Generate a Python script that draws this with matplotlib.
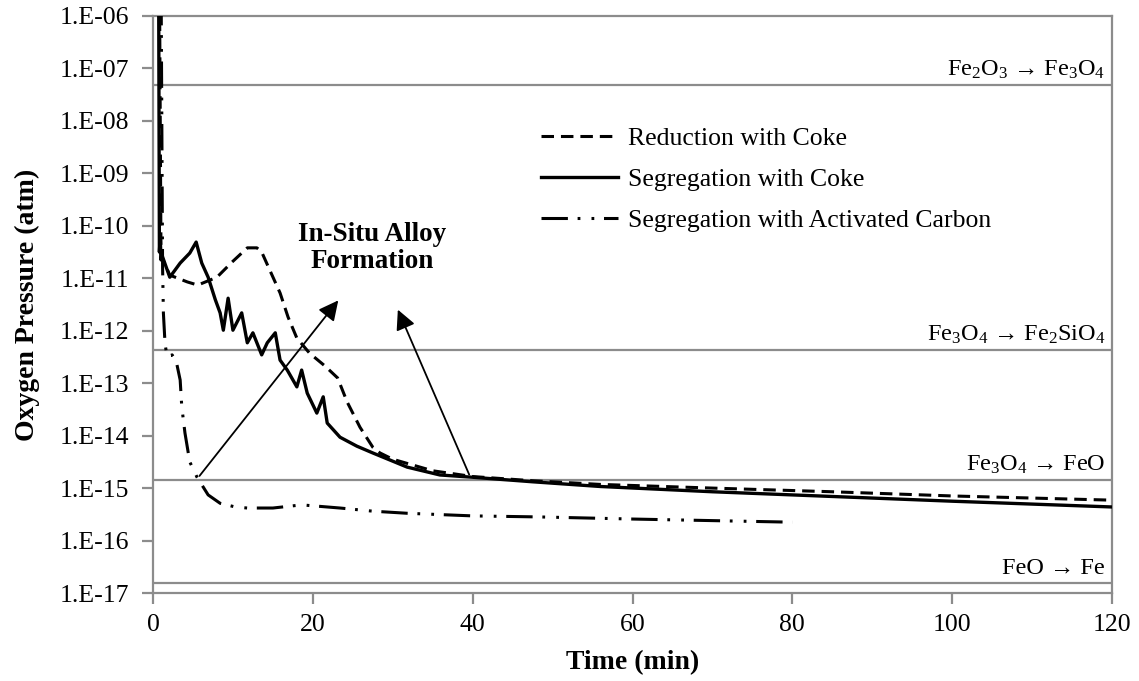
import matplotlib
matplotlib.use('Agg')
import matplotlib.pyplot as plt
import numpy as np
from matplotlib.ticker import FixedLocator, FuncFormatter, NullLocator

plt.rcParams['font.family'] = ['Liberation Serif', 'DejaVu Serif']
plt.rcParams['mathtext.default'] = 'regular'
plt.rcParams['lines.scale_dashes'] = False

# time (min) and log10 of oxygen pressure (atm)
red_coke_t = [0.8, 1.0, 2.1, 4.3, 5.6, 8.0, 9.9, 11.8, 13.0, 13.6, 14.6, 15.9, 16.9,
              18.0, 19.6, 21.5, 23.1, 24.3, 25.9, 27.5, 28.4, 30, 35, 40, 47.5, 56,
              70, 85, 100, 120]
red_coke_log = [-5.0, -10.56, -10.94, -11.07, -11.13, -10.98, -10.69, -10.42, -10.42,
                -10.50, -10.84, -11.28, -11.74, -12.14, -12.43, -12.67, -12.90, -13.36,
                -13.84, -14.22, -14.33, -14.45, -14.67, -14.78, -14.86, -14.93, -15.0,
                -15.07, -15.15, -15.23]

seg_coke_t = [0.7, 0.8, 0.9, 1.0, 1.1, 2.1, 3.4, 4.6, 5.4, 6.1, 6.9, 7.8, 8.4, 8.8,
              9.4, 10.0, 11.1, 11.8, 12.5, 13.6, 14.3, 15.3, 15.9, 16.8, 18.0, 18.6,
              19.3, 20.5, 21.3, 21.8, 23.4, 25.5, 27.5, 31.8, 35.9, 39.7, 47.5, 56,
              70, 85, 100, 120]
seg_coke_log = [-5.0, -10.5, -10.2, -10.65, -10.55, -10.98, -10.71, -10.52, -10.31,
                -10.71, -10.98, -11.41, -11.66, -11.99, -11.38, -11.99, -11.66, -12.23,
                -12.04, -12.46, -12.23, -12.04, -12.56, -12.75, -13.07, -12.75, -13.19,
                -13.57, -13.26, -13.76, -14.03, -14.2, -14.33, -14.60, -14.75, -14.79,
                -14.88, -14.97, -15.07, -15.16, -15.25, -15.36]

seg_ac_t = [1.0, 1.2, 1.25, 1.3, 1.5, 1.75, 2.4, 3.0, 3.4, 3.6, 4.0, 4.6, 5.5, 6.9,
            8.4, 10.3, 11.8, 15.0, 18.6, 23.4, 27.5, 31.8, 40.0, 48.4, 60, 70, 80]
seg_ac_log = [-5.0, -10.8, -11.22, -11.66, -12.23, -12.5, -12.46, -12.65, -12.94,
              -13.45, -13.95, -14.5, -14.79, -15.13, -15.29, -15.36, -15.38, -15.38,
              -15.32, -15.38, -15.44, -15.48, -15.53, -15.55, -15.59, -15.62, -15.65]

# equilibrium oxygen pressures of the reactions
eq_labels = [r'Fe$_2$O$_3$ → Fe$_3$O$_4$', r'Fe$_3$O$_4$ → Fe$_2$SiO$_4$',
             r'Fe$_3$O$_4$ → FeO', 'FeO → Fe']
eq_log = [-7.32, -12.376, -14.85, -16.81]

gray = '#8c8c8c'

fig = plt.figure(figsize=(11.39, 6.81), dpi=100)
ax = fig.add_axes([153 / 1139, 1 - 593 / 681, 959 / 1139, 577 / 681])

for lab, lv in zip(eq_labels, eq_log):
    ax.axhline(10 ** lv, color=gray, lw=1.6, zorder=1)
    ax.annotate(lab, xy=(1, 10 ** lv), xycoords=('axes fraction', 'data'),
                xytext=(-5, 3), textcoords='offset points',
                ha='right', va='bottom', fontsize=17.5)

ax.plot(red_coke_t, 10 ** np.array(red_coke_log), color='k', lw=2.2,
        dashes=(9, 5), label='Reduction with Coke', zorder=3)
ax.plot(seg_coke_t, 10 ** np.array(seg_coke_log), color='k', lw=2.4,
        label='Segregation with Coke', zorder=4)
ax.plot(seg_ac_t, 10 ** np.array(seg_ac_log), color='k', lw=2.2,
        dashes=(19, 7, 2, 8, 2, 7), label='Segregation with Activated Carbon', zorder=3)

# arrows pointing at the alloy formation
arrow = dict(arrowstyle='-|>', color='k', lw=1.3, mutation_scale=30)
ax.annotate('', xy=(23.4, 10 ** -11.38), xytext=(5.6, 10 ** -14.81), arrowprops=arrow)
ax.annotate('', xy=(30.5, 10 ** -11.55), xytext=(39.7, 10 ** -14.79), arrowprops=arrow)
ax.text(27.4, 10 ** -10.42, 'In-Situ Alloy\nFormation', ha='center', va='center',
        fontsize=19.5, fontweight='bold', linespacing=1.1)

ax.set_yscale('log')
ax.set_xlim(0, 120)
ax.set_ylim(1e-17, 1e-6)
ax.set_xticks(np.arange(0, 121, 20))
ax.yaxis.set_major_locator(FixedLocator([10.0 ** k for k in range(-17, -5)]))
ax.yaxis.set_minor_locator(NullLocator())
ax.yaxis.set_major_formatter(FuncFormatter(lambda v, p: '1.E-%02d' % round(-np.log10(v))))
ax.tick_params(axis='both', labelsize=18.5, color=gray, width=1.6, length=8, direction='out')
ax.tick_params(axis='x', pad=7)
ax.tick_params(axis='y', pad=9)
for s in ax.spines.values():
    s.set_color(gray)
    s.set_linewidth(1.6)

ax.set_xlabel('Time (min)', fontsize=20, fontweight='bold', labelpad=10)
ax.set_ylabel('Oxygen Pressure (atm)', fontsize=20, fontweight='bold', labelpad=14)

ax.legend(loc='upper left', bbox_to_anchor=(0.38, 0.848), frameon=False, fontsize=18.5,
          handlelength=3.0, handletextpad=0.4, labelspacing=0.7)

fig.savefig('out.png', dpi=100)
